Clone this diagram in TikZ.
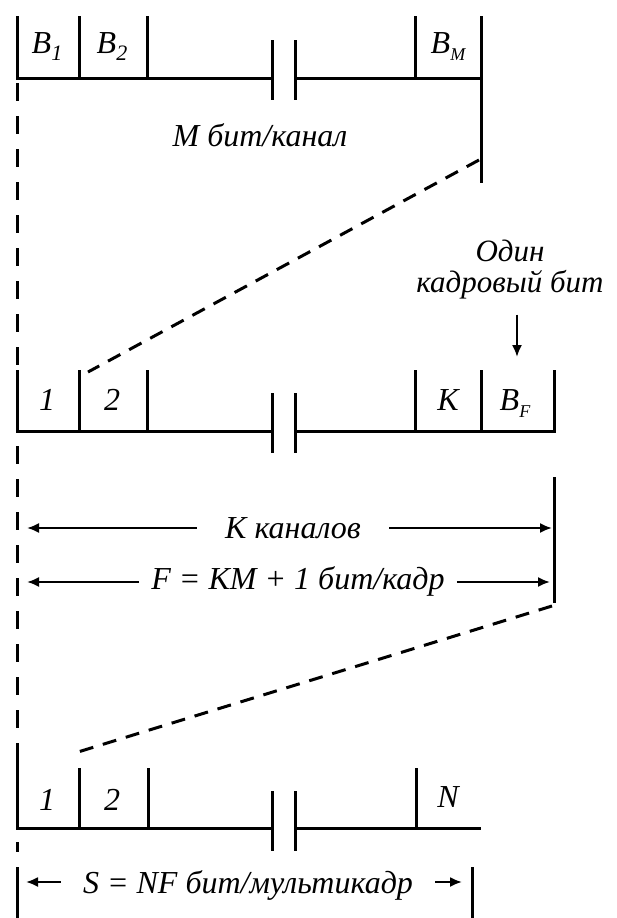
\documentclass[tikz,border=0pt]{standalone}
\usepackage{fontspec}
\setmainfont{Liberation Serif}
\usetikzlibrary{arrows.meta}

% lowered index for bit names
\newcommand{\lowidx}[1]{\raisebox{-7pt}{\fontsize{22}{22}\selectfont #1}}

\begin{document}
\begin{tikzpicture}[x=1pt, y=-1pt, >={Latex[length=12pt,width=10pt]},
    every node/.style={font=\fontsize{32}{36}\selectfont\itshape, inner sep=0pt},
    frame/.style={line width=3pt},
    guide/.style={line width=3pt, dash pattern=on 18pt off 15pt},
    link/.style={line width=3pt, dash pattern=on 14pt off 10pt},
    dim/.style={->, line width=2pt}]

    \useasboundingbox (0,0) rectangle (616,918);

    % Top row: bits of one channel
    \draw[frame] (17.7,16) -- (17.7,78) -- (272,78);
    \draw[frame] (295,78) -- (481,78);
    \foreach \x in {79,147,415} \draw[frame] (\x,16) -- (\x,78);
    \draw[frame] (481,16) -- (481,183);
    \foreach \x in {272,295} \draw[frame] (\x,40) -- (\x,100);

    \node[anchor=base] (b1) at (47,53) {B\lowidx{1}};
    \node[anchor=base] (b2) at (112,53) {B\lowidx{2}};
    \node[anchor=base] (bm) at (448,53) {B\lowidx{\fontsize{18}{18}\selectfont M}};
    \node[anchor=base] (mbits) at (260,146) {M бит/канал};

    % Middle row: channels of one frame
    \draw[frame] (17.7,370) -- (17.7,431) -- (272,431);
    \draw[frame] (295,431) -- (554,431) -- (554,370);
    \foreach \x in {79,147,415,481} \draw[frame] (\x,370) -- (\x,431);
    \foreach \x in {272,295} \draw[frame] (\x,393) -- (\x,453);

    \node[anchor=base] (k1) at (47,410) {1};
    \node[anchor=base] (k2) at (112,410) {2};
    \node[anchor=base] (kk) at (448,410) {K};
    \node[anchor=base] (bf) at (515,410) {B\lowidx{\fontsize{18}{18}\selectfont F}};

    % Framing bit note
    \node[anchor=north, align=center, font=\fontsize{31}{31}\selectfont\itshape] (note) at (510,240) {Один\\кадровый бит};
    \coordinate (fbit) at (517,357);
    \draw[dim] ([yshift=-15pt]note.south -| fbit) -- (fbit);

    % Frame length
    \draw[frame] (554,477) -- (554,603);
    \coordinate (kl) at (27,528);
    \coordinate (kr) at (552,528);
    \node[anchor=base, inner xsep=28pt] (kdim) at (293,538) {K каналов};
    \draw[dim] (kdim.west |- kl) -- (kl);
    \draw[dim] (kdim.east |- kr) -- (kr);

    \coordinate (fl) at (27,582);
    \coordinate (fr) at (550,582);
    \node[anchor=base, inner xsep=12pt] (fdim) at (298,589) {F = KM + 1 бит/кадр};
    \draw[dim] (fdim.west |- fl) -- (fl);
    \draw[dim] (fdim.east |- fr) -- (fr);

    % Bottom row: frames of one multiframe
    \draw[frame] (17.7,748) -- (17.7,828) -- (272,828);
    \draw[frame] (295,828) -- (481,828);
    \foreach \x in {79,148,416} \draw[frame] (\x,768) -- (\x,828);
    \foreach \x in {272,295} \draw[frame] (\x,791) -- (\x,851);

    \node[anchor=base] (n1) at (47,810) {1};
    \node[anchor=base] (n2) at (112,810) {2};
    \node[anchor=base] (nn) at (448,807) {N};

    % Multiframe length
    \draw[frame] (17.7,867) -- (17.7,918);
    \draw[frame] (472,867) -- (472,918);
    \coordinate (sl) at (26,882);
    \coordinate (sr) at (462,882);
    \node[anchor=base, inner xsep=22pt] (sdim) at (248,893) {S = NF бит/мультикадр};
    \draw[dim] (sdim.west |- sl) -- (sl);
    \draw[dim] (sdim.east |- sr) -- (sr);

    % Dashed guides
    \draw[guide] (17.7,83) -- (17.7,852);
    \coordinate (mend) at (479,160);
    \coordinate (ktwo) at (88,372);
    \coordinate (fend) at (552,606);
    \coordinate (ntwo) at (78,752);
    \draw[link] (mend) -- (ktwo);
    \draw[link] (fend) -- (ntwo);
\end{tikzpicture}
\end{document}
